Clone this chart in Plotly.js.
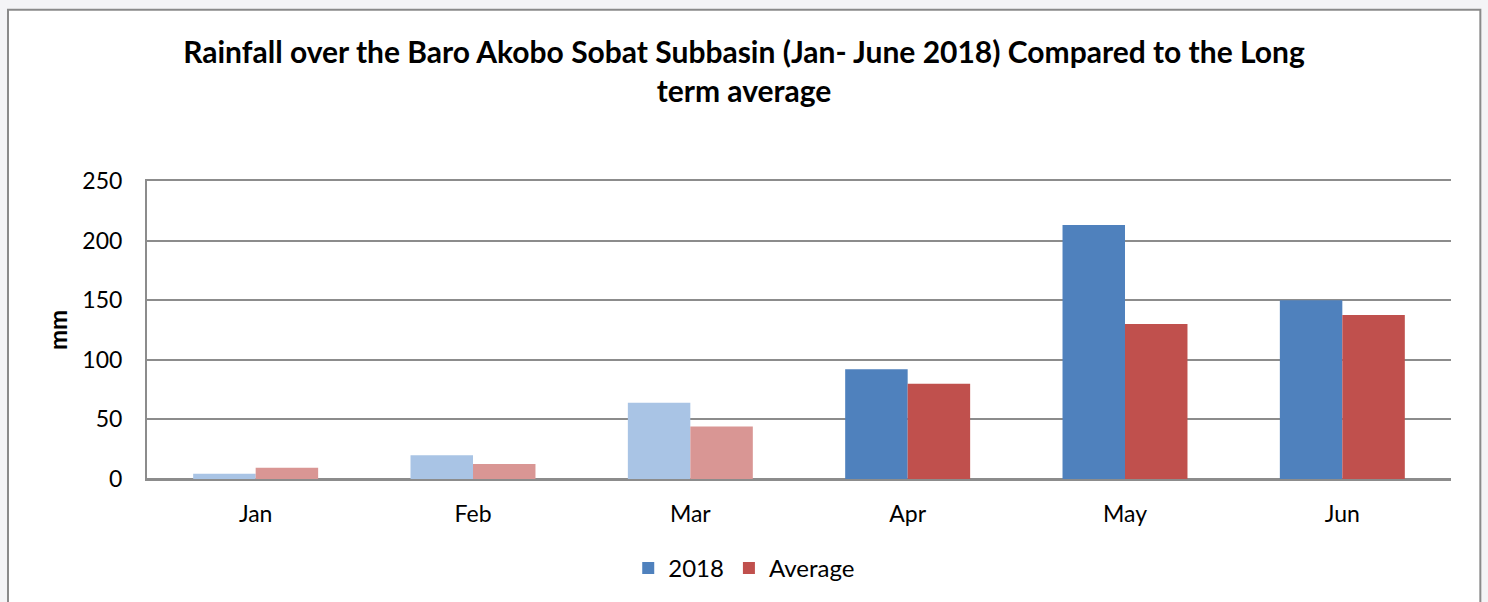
<!DOCTYPE html>
<html>
<head>
<meta charset="utf-8">
<script src="https://cdn.plot.ly/plotly-3.0.1.min.js"></script>
<style>
  html, body { margin: 0; padding: 0; background: #f4f4f6; }
  #chart { width: 1488px; height: 602px; }
</style>
</head>
<body>
<div id="chart"></div>
<script>
var months = ['Jan', 'Feb', 'Mar', 'Apr', 'May', 'Jun'];

var rain2018 = [4.5, 20, 64, 92, 213, 150];
var rainAvg = [9.5, 12.6, 44, 80, 130, 137.5];

// Jan-Mar are drawn in paler shades in the original
var colors2018 = ['#a9c4e5', '#a9c4e5', '#a9c4e5', '#4f81bd', '#4f81bd', '#4f81bd'];
var colorsAvg = ['#d99694', '#d99694', '#d99694', '#c0504d', '#c0504d', '#c0504d'];

var trace1 = {
  x: months,
  y: rain2018,
  name: '2018',
  type: 'bar',
  offsetgroup: 'a',
  showlegend: false,
  marker: { color: colors2018, line: { width: 0 } },
  hoverinfo: 'none'
};

var trace2 = {
  x: months,
  y: rainAvg,
  name: 'Average',
  type: 'bar',
  offsetgroup: 'b',
  showlegend: false,
  marker: { color: colorsAvg, line: { width: 0 } },
  hoverinfo: 'none'
};

// legend entries only, so the swatches show the full colours
var leg1 = {
  x: [months[0]], y: [null], name: '2018', type: 'bar',
  offsetgroup: 'a', marker: { color: '#4f81bd' }, hoverinfo: 'none'
};
var leg2 = {
  x: [months[0]], y: [null], name: 'Average', type: 'bar',
  offsetgroup: 'b', marker: { color: '#c0504d' }, hoverinfo: 'none'
};

var data = [trace1, trace2, leg1, leg2];

var layout = {
  width: 1488,
  height: 602,
  margin: { l: 147, r: 37, t: 181, b: 123, autoexpand: false },
  paper_bgcolor: '#f4f4f6',
  plot_bgcolor: 'rgba(0,0,0,0)',
  font: { family: 'Lato, Carlito, sans-serif', color: '#000', size: 23 },
  title: {
    text: '<b>Rainfall over the Baro Akobo Sobat Subbasin (Jan- June 2018) Compared to the Long<br>term average</b>',
    font: { size: 30, color: '#000' },
    x: 0.5,
    xref: 'container',
    xanchor: 'center',
    y: 0.896,
    yanchor: 'middle'
  },
  barmode: 'group',
  bargap: 0.425,
  bargroupgap: 0,
  xaxis: {
    showgrid: false,
    showline: true,
    mirror: true,
    linecolor: '#8c8c8c',
    linewidth: 2,
    zeroline: false,
    ticks: '',
    tickfont: { size: 23 },
    ticklabelstandoff: 13
  },
  yaxis: {
    range: [0, 250],
    tickvals: [0, 50, 100, 150, 200, 250],
    showgrid: true,
    gridcolor: '#8c8c8c',
    gridwidth: 2,
    zeroline: true,
    zerolinecolor: '#8c8c8c',
    zerolinewidth: 2,
    showline: true,
    linecolor: '#8c8c8c',
    linewidth: 2,
    ticks: '',
    ticklabelstandoff: 18,
    tickfont: { size: 23 },
    title: { text: '<b>mm</b>', font: { size: 24 }, standoff: 8 }
  },
  legend: {
    orientation: 'h',
    x: 0.458,
    xanchor: 'center',
    y: -0.3,
    yanchor: 'middle',
    bgcolor: 'rgba(0,0,0,0)',
    font: { size: 24 },
    itemwidth: 30,
    traceorder: 'normal'
  },
  shapes: [
    {
      type: 'rect',
      xref: 'paper',
      yref: 'paper',
      x0: -0.1066,
      x1: 1.0225,
      y0: -0.5,
      y1: 1.575,
      fillcolor: '#ffffff',
      line: { color: '#8a8a8a', width: 2 },
      layer: 'below'
    }
  ],
  showlegend: true
};

Plotly.newPlot('chart', data, layout, { displayModeBar: false, staticPlot: true });
</script>
</body>
</html>
